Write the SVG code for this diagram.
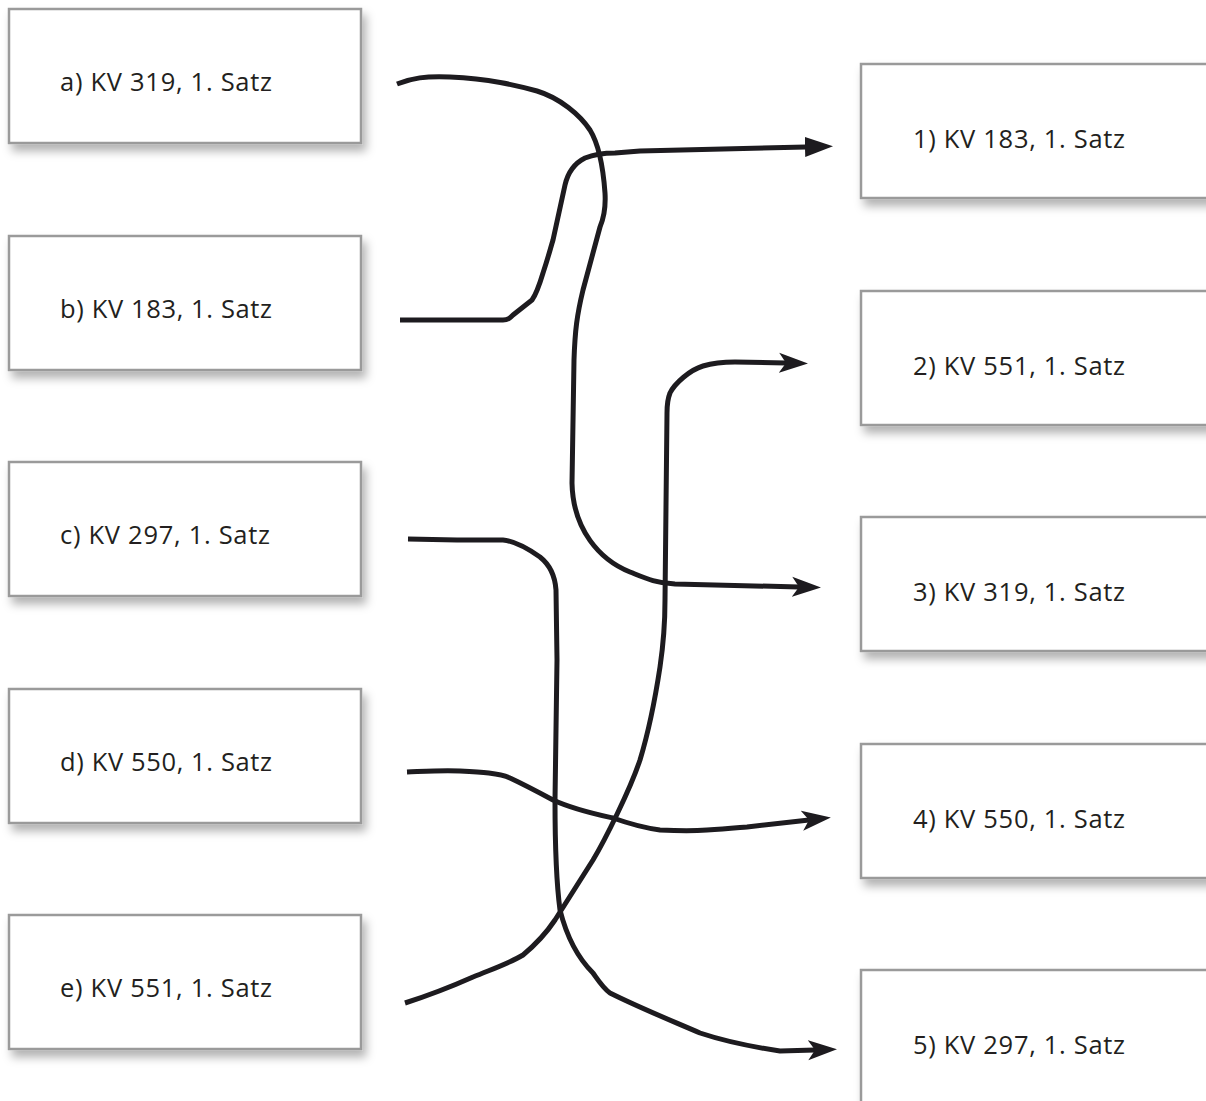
<svg xmlns="http://www.w3.org/2000/svg" width="1206" height="1101" viewBox="0 0 1206 1101">
<style>
.box{fill:#fff;stroke:#9a9a9a;stroke-width:2.5;filter:url(#sh)}
.lbl{font-family:"Open Sans","Noto Sans",sans-serif;font-size:25.5px;fill:#231f20}
.con{fill:none;stroke:#1d1b1f;stroke-width:5;stroke-linecap:butt;stroke-linejoin:round}
</style>
<defs>
<filter id="sh" x="-10%" y="-20%" width="130%" height="150%">
<feDropShadow dx="4" dy="7" stdDeviation="5" flood-color="#000" flood-opacity="0.3"/>
</filter>
<marker id="tri" markerUnits="userSpaceOnUse" markerWidth="30" markerHeight="24" viewBox="0 -12 30 24" refX="1" refY="0" orient="auto">
<path d="M0,-10 L28,0 L0,10 Z" fill="#1d1b1f"/>
</marker>
<marker id="barb" markerUnits="userSpaceOnUse" markerWidth="30" markerHeight="24" viewBox="0 -12 30 24" refX="7" refY="0" orient="auto">
<path d="M0,-10 L29,0 L0,10 L7,0 Z" fill="#1d1b1f"/>
</marker>
</defs>
<rect width="1206" height="1101" fill="#fff"/>
<g id="node-a"><rect class="box" x="9" y="9" width="352" height="134"/><text class="lbl" x="60" y="91" textLength="212" lengthAdjust="spacing">a) KV 319, 1. Satz</text></g>
<g id="node-b"><rect class="box" x="9" y="236" width="352" height="134"/><text class="lbl" x="60" y="318" textLength="212" lengthAdjust="spacing">b) KV 183, 1. Satz</text></g>
<g id="node-c"><rect class="box" x="9" y="462" width="352" height="134"/><text class="lbl" x="60" y="544" textLength="210" lengthAdjust="spacing">c) KV 297, 1. Satz</text></g>
<g id="node-d"><rect class="box" x="9" y="689" width="352" height="134"/><text class="lbl" x="60" y="771" textLength="212" lengthAdjust="spacing">d) KV 550, 1. Satz</text></g>
<g id="node-e"><rect class="box" x="9" y="915" width="352" height="134"/><text class="lbl" x="60" y="997" textLength="212" lengthAdjust="spacing">e) KV 551, 1. Satz</text></g>
<g id="node-1"><rect class="box" x="861" y="64" width="360" height="134"/><text class="lbl" x="913" y="148" textLength="212" lengthAdjust="spacing">1) KV 183, 1. Satz</text></g>
<g id="node-2"><rect class="box" x="861" y="291" width="360" height="134"/><text class="lbl" x="913" y="375" textLength="212" lengthAdjust="spacing">2) KV 551, 1. Satz</text></g>
<g id="node-3"><rect class="box" x="861" y="517" width="360" height="134"/><text class="lbl" x="913" y="601" textLength="212" lengthAdjust="spacing">3) KV 319, 1. Satz</text></g>
<g id="node-4"><rect class="box" x="861" y="744" width="360" height="134"/><text class="lbl" x="913" y="828" textLength="212" lengthAdjust="spacing">4) KV 550, 1. Satz</text></g>
<g id="node-5"><rect class="box" x="861" y="970" width="360" height="134"/><text class="lbl" x="913" y="1054" textLength="212" lengthAdjust="spacing">5) KV 297, 1. Satz</text></g>
<g id="connectors">
<path class="con" marker-end="url(#barb)" d="M397,84 C412,78 425,76 450,77 C490,79 515,85 537,91 C560,98 580,115 590,130 C598,143 603,165 605,193 C606,210 603,220 600,227 L583,290 C577,315 575,330 574,360 L572,483 C573,530 600,560 630,572 C645,578 655,583 675,584 L799,587"/>
<path class="con" marker-end="url(#tri)" d="M400,320 L503,320 C508,320 510,318 513,315 L532,300 C537,293 540,283 543,273 C548,258 550,250 553,240 L565,185 C568,172 575,163 585,158 C595,154 605,153 615,153 L640,151 L806,147"/>
<path class="con" marker-end="url(#barb)" d="M408,539 L457,540 L503,540 C515,541 530,550 540,557 C550,565 555,575 556,590 L557,660 L555,800 C555,850 556,880 560,910 C565,930 575,955 593,973 C598,980 603,988 610,993 C640,1008 670,1020 700,1033 C730,1043 760,1048 780,1051 L815,1050"/>
<path class="con" marker-end="url(#barb)" d="M407,772 C430,771 445,770 460,771 C480,772 500,773 510,778 C525,785 540,793 553,800 C575,810 595,814 613,818 C630,824 645,828 660,830 C680,831 695,831 707,830 C725,829 735,828 747,827 L809,820"/>
<path class="con" marker-end="url(#barb)" d="M405,1003 C430,995 455,985 473,977 C495,968 510,963 523,955 C535,945 545,935 555,920 L593,860 C605,840 630,790 640,760 C650,727 655,700 660,667 C664,640 665,620 665,600 L667,413 C667,405 668,398 670,393 C675,383 690,370 703,366 C713,363 720,362 735,362 L786,363"/>
</g>
</svg>
